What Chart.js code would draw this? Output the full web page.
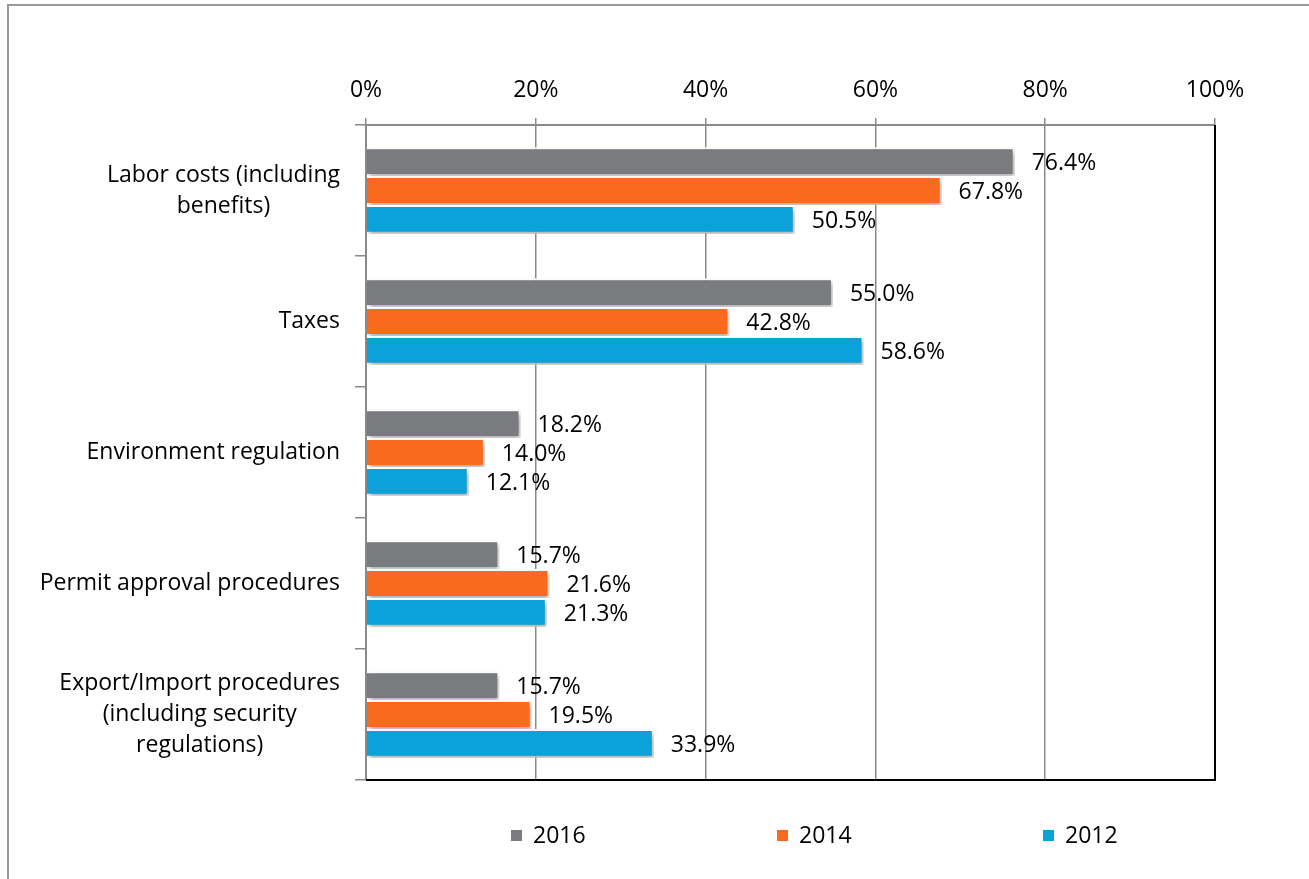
<!DOCTYPE html>
<html>
<head>
<meta charset="utf-8">
<title>Cost factors</title>
<script src="https://cdn.jsdelivr.net/npm/chart.js@4"></script>
<style>
  html, body { margin: 0; padding: 0; background: #fff; }
  canvas { display: block; }
</style>
</head>
<body>
<canvas id="costChart" width="1309" height="879"></canvas>
<script>
/* ---------- DATA ---------- */
const categories = [
  ["Labor costs (including", "benefits)"],
  ["Taxes"],
  ["Environment regulation"],
  ["Permit approval procedures"],
  ["Export/Import procedures", "(including security", "regulations)"]
];
const years     = ["2016", "2014", "2012"];
const vals2016  = [76.4, 55.0, 18.2, 15.7, 15.7];
const vals2014  = [67.8, 42.8, 14.0, 21.6, 19.5];
const vals2012  = [50.5, 58.6, 12.1, 21.3, 33.9];
const xTicks    = [0, 20, 40, 60, 80, 100];

/* ---------- STYLE ---------- */
const FONT   = "'Open Sans', 'DejaVu Sans', sans-serif";
const COLORS = ["#7a7b7f", "#f96a1e", "#0aa2d9"];
const GRID   = "#8a8a8a";

/* ---------- PLUGINS ---------- */
// white page + grey outer frame
const pageFrame = {
  id: "pageFrame",
  beforeDraw(chart) {
    const ctx = chart.ctx;
    ctx.save();
    ctx.fillStyle = "#fff";
    ctx.fillRect(0, 0, chart.width, chart.height);
    ctx.strokeStyle = "#9a9a9a";
    ctx.lineWidth = 2;
    ctx.strokeRect(8, 5, chart.width + 20, chart.height + 20);
    ctx.restore();
  }
};

// soft drop shadow under every bar
const barShadow = {
  id: "barShadow",
  beforeDatasetDraw(chart) {
    const ctx = chart.ctx;
    ctx.save();
    ctx.shadowColor = "rgba(0,0,0,0.35)";
    ctx.shadowBlur = 5;
    ctx.shadowOffsetX = 2;
    ctx.shadowOffsetY = 3;
  },
  afterDatasetDraw(chart) {
    chart.ctx.restore();
  }
};

// black right/bottom edge of the plot
const plotEdge = {
  id: "plotEdge",
  afterDatasetsDraw(chart) {
    const { ctx, chartArea: a } = chart;
    ctx.save();
    ctx.strokeStyle = "#000";
    ctx.lineWidth = 2;
    ctx.beginPath();
    ctx.moveTo(a.left, a.bottom);
    ctx.lineTo(a.right, a.bottom);
    ctx.lineTo(a.right, a.top);
    ctx.stroke();
    ctx.restore();
  }
};

// value labels to the right of each bar
const valueLabels = {
  id: "valueLabels",
  afterDatasetsDraw(chart) {
    const ctx = chart.ctx;
    ctx.save();
    ctx.font = `23px ${FONT}`;
    ctx.fillStyle = "#000";
    ctx.textAlign = "left";
    ctx.textBaseline = "middle";
    chart.data.datasets.forEach((ds, i) => {
      chart.getDatasetMeta(i).data.forEach((bar, j) => {
        ctx.fillText(ds.data[j].toFixed(1) + "%", bar.x + 17, bar.y + 2);
      });
    });
    ctx.restore();
  }
};

// category labels, each block centred on its widest line
const categoryLabels = {
  id: "categoryLabels",
  afterDraw(chart) {
    const ctx = chart.ctx;
    const yScale = chart.scales.y;
    const rightEdge = chart.chartArea.left - 26;
    const lineH = 31;
    ctx.save();
    ctx.font = `23px ${FONT}`;
    ctx.fillStyle = "#000";
    ctx.textAlign = "center";
    ctx.textBaseline = "middle";
    categories.forEach((lines, i) => {
      const y = yScale.getPixelForValue(i);
      const maxW = Math.max(...lines.map(l => ctx.measureText(l).width));
      const cx = rightEdge - maxW / 2;
      lines.forEach((l, k) => {
        ctx.fillText(l, cx, y + (k - (lines.length - 1) / 2) * lineH);
      });
    });
    ctx.restore();
  }
};

// spread-out legend under the plot
const wideLegend = {
  id: "wideLegend",
  afterDraw(chart) {
    const ctx = chart.ctx;
    const a = chart.chartArea;
    const y = a.bottom + 56;
    ctx.save();
    ctx.font = `23px ${FONT}`;
    ctx.textAlign = "left";
    ctx.textBaseline = "middle";
    chart.data.datasets.forEach((ds, i) => {
      const x = a.left + 145 + i * 266;
      ctx.fillStyle = ds.backgroundColor;
      ctx.fillRect(x, y - 6, 11, 11);
      ctx.fillStyle = "#000";
      ctx.fillText(ds.label, x + 22, y);
    });
    ctx.restore();
  }
};

/* ---------- CHART ---------- */
const seriesValues = [vals2016, vals2014, vals2012];

new Chart(document.getElementById("costChart"), {
  type: "bar",
  data: {
    labels: categories,
    datasets: years.map((yr, i) => ({
      label: yr,
      data: seriesValues[i],
      backgroundColor: COLORS[i],
      borderColor: "#fff",
      borderWidth: 2,
      categoryPercentage: 0.66,
      barPercentage: 1
    }))
  },
  options: {
    indexAxis: "y",
    responsive: false,
    animation: false,
    layout: { padding: { top: 0, left: 0, right: 94, bottom: 99 } },
    plugins: {
      legend: { display: false },
      tooltip: { enabled: false }
    },
    scales: {
      x: {
        type: "linear",
        position: "top",
        min: xTicks[0],
        max: xTicks[xTicks.length - 1],
        afterBuildTicks: s => { s.ticks = xTicks.map(v => ({ value: v })); },
        afterFit: s => { s.height = 125; },
        ticks: {
          callback: v => v + "%",
          color: "#000",
          padding: 14,
          font: { family: FONT, size: 23 }
        },
        grid: { color: GRID, lineWidth: 1.5, tickLength: 7 },
        border: { color: GRID, width: 2 }
      },
      y: {
        type: "category",
        afterFit: s => { s.width = 366; },
        ticks: { display: false },
        grid: { offset: true, drawOnChartArea: false, color: GRID, lineWidth: 1.5, tickLength: 11 },
        border: { color: GRID, width: 2 }
      }
    }
  },
  plugins: [pageFrame, barShadow, plotEdge, valueLabels, categoryLabels, wideLegend]
});
</script>
</body>
</html>
